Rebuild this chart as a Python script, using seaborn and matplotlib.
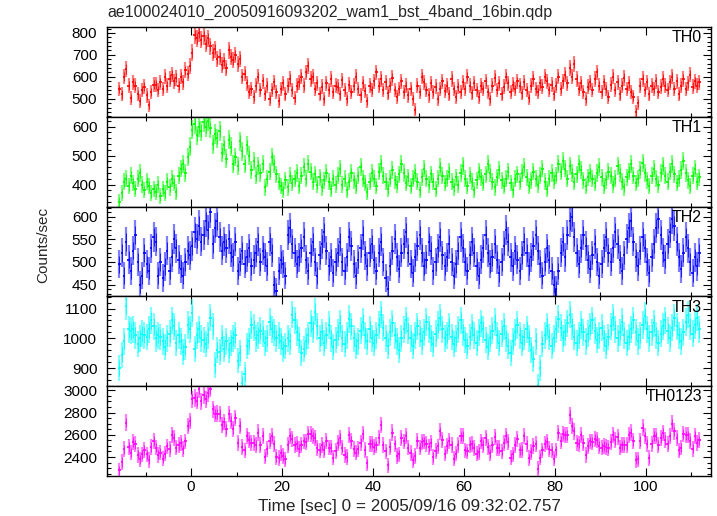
import numpy as np
import pandas as pd
import matplotlib
matplotlib.use("Agg")
import matplotlib.pyplot as plt
from matplotlib.ticker import MultipleLocator
import seaborn as sns

# --- Labels ---
title = "ae100024010_20050916093202_wam1_bst_4band_16bin.qdp"
xlabel = "Time [sec] 0 = 2005/09/16 09:32:02.757"
ylabel = "Counts/sec"
bands = ["TH0", "TH1", "TH2", "TH3", "TH0123"]
colors = ["#ff0000", "#00ff00", "#0000ff", "#00ffff", "#ff00ff"]

# --- Light curves (0.5 s bins starting at t = -16 s) ---
t_start = -16.0
bin_width = 0.5
count_time = 0.5

th0 = [
    545, 520, 600, 635, 560, 505, 575, 560, 520, 490, 540, 555, 515, 470, 530, 565,
    565, 540, 575, 545, 600, 560, 590, 610, 580, 595, 560, 600, 575, 630, 615, 650,
    710, 790, 775, 800, 770, 785, 750, 775, 740, 710, 725, 680, 690, 655, 670, 640,
    720, 690, 675, 700, 660, 680, 600, 615, 570, 530, 545, 510, 560, 600, 540, 580,
    520, 560, 500, 540, 575, 530, 490, 545, 570, 520, 560, 590, 540, 505, 560, 575,
    600, 560, 620, 650, 590, 600, 545, 570, 520, 555, 500, 570, 540, 590, 530, 560,
    555, 520, 585, 540, 500, 565, 530, 560, 600, 545, 515, 570, 535, 490, 560, 540,
    580, 620, 560, 590, 540, 575, 525, 560, 595, 540, 510, 545, 580, 530, 560, 515,
    545, 500, 450, 560, 530, 600, 575, 540, 515, 570, 530, 555, 500, 545, 580, 535,
    560, 520, 590, 545, 510, 555, 530, 575, 545, 600, 560, 525, 570, 540, 510, 560,
    545, 580, 530, 500, 560, 595, 540, 570, 520, 555, 600, 570, 530, 565, 545, 580,
    560, 525, 575, 540, 505, 560, 590, 545, 530, 570, 555, 600, 580, 540, 565, 520,
    560, 600, 545, 580, 610, 570, 640, 600, 660, 590, 545, 570, 530, 500, 555, 575,
    540, 590, 620, 560, 530, 575, 545, 510, 565, 600, 540, 575, 520, 560, 595, 545,
    570, 530, 510, 440, 480, 560, 590, 540, 575, 520, 560, 545, 580, 530, 555, 590,
    560, 540, 575, 600, 545, 580, 520, 560, 590, 545, 570, 610, 555, 580, 560, 575,
]
th1 = [
    340, 370, 410, 420, 395, 430, 405, 385, 420, 440, 400, 380, 410, 395, 370, 385,
    375, 400, 360, 385, 370, 410, 390, 420, 405, 375, 430, 455, 470, 440, 495, 530,
    590, 610, 570, 600, 585, 615, 600, 620, 595, 540, 575, 560, 585, 510, 535, 490,
    555, 530, 470, 495, 465, 550, 515, 470, 535, 500, 450, 480, 430, 465, 440, 470,
    390, 420, 445, 495, 470, 435, 410, 395, 380, 415, 390, 430, 405, 420, 440, 395,
    430, 460, 420, 470, 445, 410, 435, 400, 425, 390, 415, 440, 410, 385, 420, 400,
    430, 455, 400, 420, 380, 410, 440, 415, 395, 430, 460, 420, 405, 375, 410, 440,
    420, 395, 445, 470, 430, 410, 385, 420, 450, 415, 400, 435, 470, 440, 405, 425,
    395, 420, 440, 410, 380, 425, 455, 420, 400, 435, 410, 385, 420, 460, 430, 405,
    420, 445, 410, 390, 425, 400, 440, 465, 420, 395, 430, 410, 380, 415, 445, 425,
    405, 435, 470, 440, 410, 390, 425, 450, 415, 395, 420, 445, 405, 380, 420, 435,
    410, 440, 460, 425, 395, 415, 445, 420, 400, 430, 455, 410, 385, 420, 440, 415,
    430, 470, 445, 480, 455, 420, 465, 440, 410, 435, 470, 450, 415, 395, 425, 440,
    420, 405, 440, 460, 425, 395, 415, 445, 430, 400, 420, 465, 440, 410, 390, 425,
    445, 470, 430, 405, 420, 450, 475, 440, 415, 395, 430, 455, 420, 400, 440, 465,
    430, 410, 445, 470, 435, 405, 420, 450, 480, 440, 415, 395, 430, 455, 410, 425,
]
th2 = [
    495, 520, 470, 545, 505, 480, 525, 560, 500, 450, 470, 520, 495, 480, 530, 555,
    545, 470, 500, 465, 490, 525, 480, 510, 550, 530, 505, 485, 470, 500, 525, 515,
    535, 565, 550, 580, 545, 560, 590, 570, 610, 540, 575, 590, 555, 525, 545, 530,
    550, 520, 510, 545, 480, 500, 525, 495, 510, 530, 490, 505, 520, 545, 500, 525,
    510, 490, 545, 520, 450, 435, 480, 505, 495, 470, 560, 575, 540, 520, 495, 510,
    530, 555, 505, 480, 520, 545, 500, 470, 515, 540, 565, 525, 490, 510, 475, 500,
    520, 545, 500, 480, 510, 555, 535, 495, 470, 505, 530, 560, 515, 490, 520, 540,
    505, 480, 520, 545, 500, 465, 440, 490, 525, 550, 510, 485, 520, 540, 565, 520,
    495, 475, 510, 535, 560, 520, 490, 505, 545, 525, 480, 500, 530, 555, 515, 490,
    510, 540, 500, 470, 495, 525, 555, 530, 500, 480, 515, 545, 520, 490, 470, 505,
    530, 560, 520, 495, 510, 540, 505, 475, 500, 535, 570, 545, 510, 490, 525, 505,
    480, 515, 545, 520, 490, 510, 535, 560, 525, 495, 470, 500, 530, 505, 480, 450,
    440, 480, 520, 545, 510, 560, 590, 600, 555, 520, 495, 530, 560, 535, 505, 485,
    515, 540, 500, 470, 495, 530, 555, 520, 500, 530, 565, 540, 505, 480, 515, 550,
    575, 590, 545, 510, 490, 525, 555, 530, 500, 475, 510, 540, 575, 595, 560, 520,
    505, 540, 565, 595, 580, 545, 510, 485, 520, 555, 530, 500, 475, 510, 490, 520,
]
th3 = [
    900, 945, 990, 1110, 1030, 1025, 1030, 1010, 980, 1000, 1015, 1010, 1005, 1030, 1060, 1040,
    1000, 1010, 1005, 990, 970, 1000, 1015, 1060, 1040, 985, 1010, 990, 955, 970, 1045, 1030,
    1085, 965, 1010, 1030, 1000, 995, 980, 1010, 1070, 1040, 910, 960, 955, 1000, 965, 990,
    960, 985, 1000, 1010, 925, 950, 850, 880, 975, 990, 1045, 1035, 1000, 1010, 1025, 1015,
    985, 1000, 1055, 1030, 1020, 1000, 1010, 990, 965, 975, 1000, 990, 1080, 1060, 1020, 995,
    950, 965, 990, 1010, 1050, 1030, 1090, 1040, 1000, 1020, 985, 1010, 1045, 1000, 970, 995,
    1020, 1050, 1000, 980, 1010, 1065, 1040, 1000, 975, 990, 1025, 1055, 1010, 990, 1030, 1000,
    985, 1010, 1045, 1080, 1035, 1000, 975, 1020, 1050, 1010, 990, 960, 1000, 1030, 1060, 1025,
    1000, 975, 1010, 1040, 1015, 990, 1020, 1055, 1030, 1000, 980, 1015, 1045, 1070, 1030, 1000,
    1010, 1040, 1005, 980, 1000, 1030, 1060, 1020, 995, 975, 1005, 1035, 1010, 985, 1020, 1050,
    1030, 995, 970, 1000, 1025, 1055, 1010, 985, 1015, 1040, 1000, 975, 950, 990, 1020, 1045,
    1010, 985, 1005, 1030, 1000, 960, 930, 990, 840, 900, 980, 1010, 1040, 1005, 975, 1000,
    1030, 1065, 1035, 1000, 1020, 1050, 1080, 1040, 1005, 985, 1010, 1045, 1020, 990, 1015, 1040,
    1060, 1025, 995, 1010, 1035, 1000, 975, 1005, 1040, 1070, 1030, 1000, 1020, 1055, 1010, 985,
    1005, 1030, 1060, 1020, 990, 1010, 1045, 1075, 1030, 1000, 1020, 1050, 1010, 985, 1015, 1040,
    1060, 1025, 1000, 1035, 1070, 1040, 1010, 990, 1020, 1055, 1080, 1040, 1015, 1045, 1070, 1030,
]

# --- Panel axis settings ---
ylims = [(418, 827), (324, 634), (424, 622), (839, 1141), (2230, 3036)]
ymajor = [100, 100, 50, 100, 200]
yminor = [20, 20, 10, 20, 50]

# --- Build table ---
n_bins = len(th0)
df = pd.DataFrame({
    "time": t_start + bin_width * (np.arange(n_bins) + 0.5),
    "TH0": th0, "TH1": th1, "TH2": th2, "TH3": th3,
})
df["TH0123"] = df[["TH0", "TH1", "TH2", "TH3"]].sum(axis=1)

# --- Style ---
sns.set_style("ticks")
plt.rcParams["font.family"] = ["Liberation Sans", "DejaVu Sans"]
plt.rcParams["font.size"] = 11

fig = plt.figure(figsize=(7.17, 5.16), dpi=100)
axes = fig.subplots(len(bands), 1, sharex=True, gridspec_kw=dict(hspace=0))
fig.subplots_adjust(left=0.1492, right=0.9916, top=0.9477, bottom=0.0775)

for ax, band, color, ylim, ymaj, ymin in zip(axes, bands, colors, ylims, ymajor, yminor):
    rate = df[band].to_numpy(dtype=float)
    err = np.sqrt(rate / count_time)
    # vertical error bars (lighter), then the bin-width bars
    ax.errorbar(df["time"], rate, yerr=err, fmt="none", ecolor=color,
                elinewidth=1.6, alpha=0.5, capsize=0)
    ax.errorbar(df["time"], rate, yerr=err * 0.6, fmt="none", ecolor=color,
                elinewidth=0.7, alpha=0.8, capsize=0)
    ax.errorbar(df["time"], rate, xerr=bin_width / 2, fmt="none", ecolor=color,
                elinewidth=1.2, capsize=0)
    ax.set_ylim(*ylim)
    ax.yaxis.set_major_locator(MultipleLocator(ymaj))
    ax.yaxis.set_minor_locator(MultipleLocator(ymin))
    ax.text(0.985, 0.88, band, transform=ax.transAxes, ha="right", va="center",
            fontsize=11.5, color="black")
    ax.tick_params(which="both", direction="in", top=True, right=True,
                   width=0.8, colors="black", labelsize=11)
    ax.tick_params(which="major", length=6)
    ax.tick_params(which="minor", length=3)
    ax.tick_params(axis="y", pad=7)
    ax.tick_params(axis="x", pad=3)
    for sp in ax.spines.values():
        sp.set_linewidth(1.0)
        sp.set_color("black")

axes[-1].set_xlim(-18.5, 114.3)
axes[-1].xaxis.set_major_locator(MultipleLocator(20))
axes[-1].xaxis.set_minor_locator(MultipleLocator(10))

fig.text(107 / 717, 1 - 12 / 516, title, ha="left", va="center", fontsize=11.5)
fig.text(0.5705, 1 - 507 / 516, xlabel, ha="center", va="center", fontsize=12.3)
fig.text(43 / 717, 1 - 245 / 516, ylabel, ha="center", va="center",
         rotation=90, fontsize=11)

fig.savefig("out.png", dpi=100)
